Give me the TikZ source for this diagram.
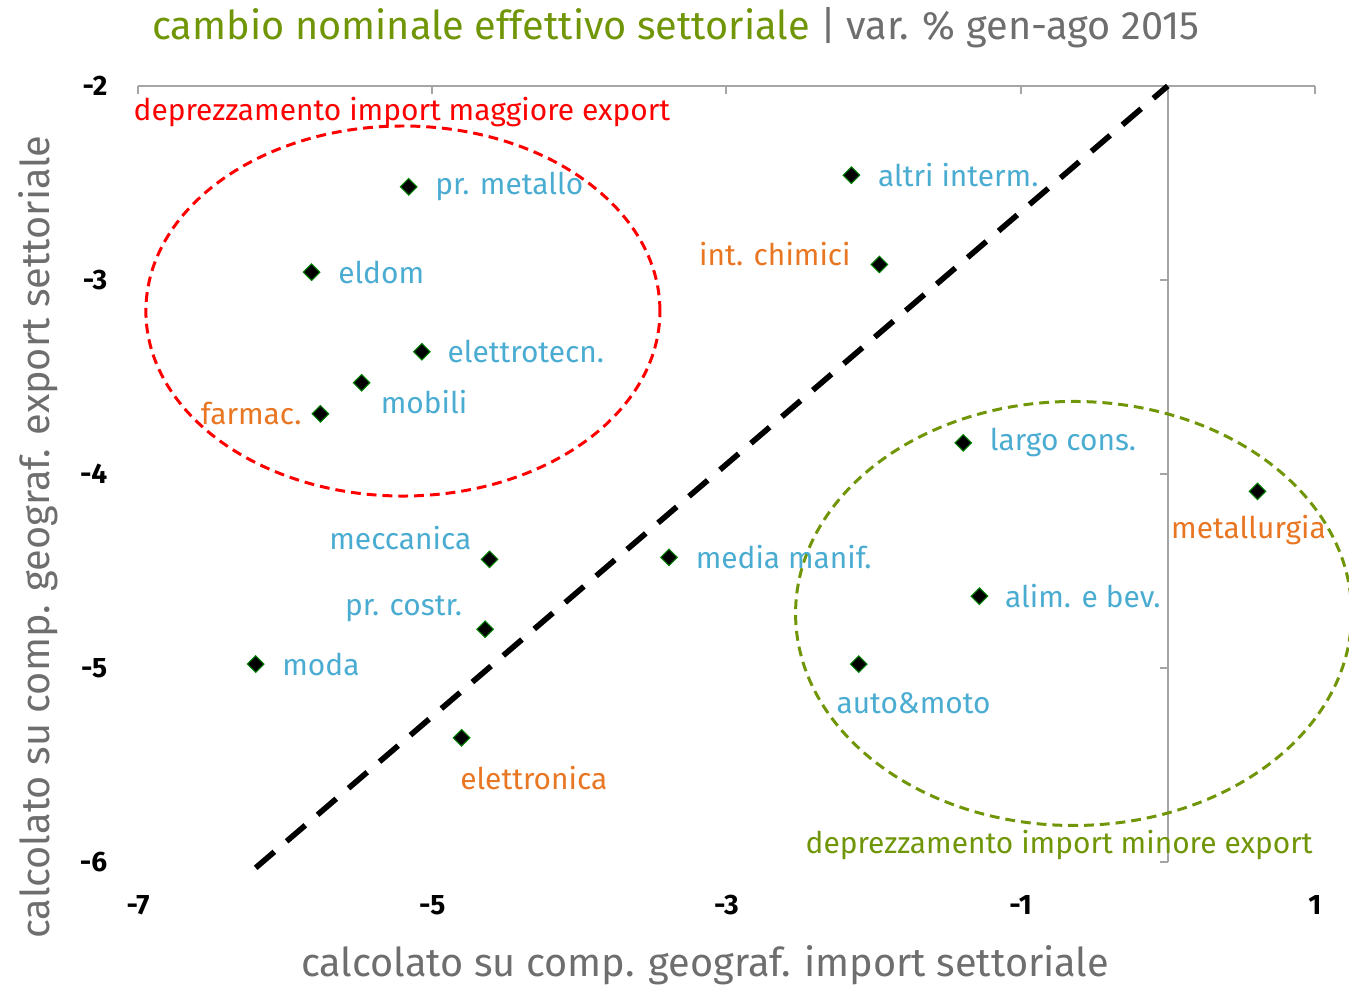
\documentclass[tikz,border=0pt]{standalone}
\usepackage{fontspec}
\setmainfont{Fira Sans}
\usepackage{xcolor}
\usetikzlibrary{positioning,shapes.geometric}

\definecolor{lblue}{RGB}{75,172,210}
\definecolor{lorange}{RGB}{232,118,34}
\definecolor{lgreen}{RGB}{112,150,8}
\definecolor{lgray}{RGB}{110,110,110}
\definecolor{agray}{RGB}{165,165,165}

\begin{document}
\begin{tikzpicture}[x=1.471cm,y=1.94cm,
    pt/.style={diamond,fill=black,draw=black!50!green,line width=0.3pt,inner sep=0pt,minimum size=0.17cm},
    blab/.style={text=lblue,font=\fontsize{8.5}{10}\selectfont,inner sep=0pt},
    olab/.style={text=lorange,font=\fontsize{8.5}{10}\selectfont,inner sep=0pt},
    tick/.style={font=\fontsize{8}{9}\selectfont\bfseries,inner sep=0pt},
    axis/.style={draw=agray,line width=0.6pt},
    ring/.style={dash pattern=on 2.8pt off 1.7pt,line width=0.85pt},
    big/.style={font=\fontsize{11.3}{13}\selectfont,inner sep=0pt}]
  \useasboundingbox (-7.938,-6.655) rectangle (1.232,-1.557);

  % axes
  \coordinate (o) at (0,-2);
  \coordinate (xl) at (-7,-2);
  \coordinate (xr) at (1,-2);
  \coordinate (yb) at (0,-6);
  \draw[axis] (xl) -- (xr);
  \draw[axis] (o) -- (yb);
  \foreach \x in {-7,-5,-3,-1,1} {
    \draw[axis] (\x,-2) -- ++(0,-0.08cm);
    \node[tick] (tx\x) at (\x,-6.222) {\x};
  }
  \foreach \y in {-3,-4,-5,-6}
    \draw[axis] (0,\y) -- ++(-0.08cm,0);
  \foreach \y in {-2,-3,-4,-5,-6}
    \node[tick,anchor=east] (ty\y) at (-7.204,\y) {\y};

  % diagonal
  \coordinate (d0) at (-6.2,-6.03);
  \coordinate (d1) at (0,-2);
  \draw[line width=1.6pt,dash pattern=on 7pt off 4.6pt] (d0) -- (d1);

  % areas
  \draw[red,ring] (-5.199,-3.160) ellipse [x radius=2.57cm,y radius=1.85cm];
  \draw[lgreen,ring] (-0.640,-4.719) ellipse [x radius=2.78cm,y radius=2.12cm];
  \node[text=red,font=\fontsize{8.5}{10}\selectfont,anchor=west,inner sep=0pt] (rl) at (-7.034,-2.134) {deprezzamento import maggiore export};
  \node[text=lgreen,font=\fontsize{8.5}{10}\selectfont,anchor=west,inner sep=0pt] (gl) at (-2.466,-5.912) {deprezzamento import minore export};

  % sectors
  \node[pt] (pm) at (-5.16,-2.52) {};
  \node[pt] (ed) at (-5.82,-2.96) {};
  \node[pt] (et) at (-5.07,-3.37) {};
  \node[pt] (mo) at (-5.48,-3.53) {};
  \node[pt] (fa) at (-5.76,-3.69) {};
  \node[pt] (ai) at (-2.15,-2.46) {};
  \node[pt] (ic) at (-1.96,-2.92) {};
  \node[pt] (lc) at (-1.39,-3.84) {};
  \node[pt] (mt) at (0.61,-4.09) {};
  \node[pt] (me) at (-4.61,-4.44) {};
  \node[pt] (mm) at (-3.39,-4.43) {};
  \node[pt] (ab) at (-1.28,-4.63) {};
  \node[pt] (pc) at (-4.64,-4.80) {};
  \node[pt] (md) at (-6.20,-4.98) {};
  \node[pt] (am) at (-2.10,-4.98) {};
  \node[pt] (el) at (-4.80,-5.36) {};

  \node[blab,right=0.17cm of pm] (pml) {pr. metallo};
  \node[blab,right=0.17cm of ed] (edl) {eldom};
  \node[blab,right=0.16cm of et] (etl) {elettrotecn.};
  \node[blab,below right=0.02cm and 0.14cm of mo] (mol) {mobili};
  \node[olab,left=0.09cm of fa] (fal) {farmac.};
  \node[blab,right=0.17cm of ai] (ail) {altri interm.};
  \node[olab,left=0.19cm of ic,yshift=0.1cm] (icl) {int. chimici};
  \node[blab,right=0.17cm of lc] (lcl) {largo cons.};
  \node[olab,below=0.14cm of mt,xshift=-0.09cm] (mtl) {metallurgia};
  \node[blab,above left=0.04cm and 0.13cm of me] (mel) {meccanica};
  \node[blab,right=0.17cm of mm] (mml) {media manif.};
  \node[blab,right=0.16cm of ab] (abl) {alim. e bev.};
  \node[blab,above left=0.02cm and 0.18cm of pc] (pcl) {pr. costr.};
  \node[blab,right=0.17cm of md] (mdl) {moda};
  \node[blab,below=0.19cm of am,anchor=north west,xshift=-0.23cm] (aml) {auto\&moto};
  \node[olab,below=0.19cm of el,anchor=north west,xshift=-0.02cm] (ell) {elettronica};

  % titles
  \node[big] (title) at (-3.343,-1.701)
    {\textcolor{lgreen}{cambio nominale effettivo settoriale} \textcolor{lgray}{| var. \% gen-ago 2015}};
  \node[big,text=lgray] (xt) at (-3.145,-6.531) {calcolato su comp. geograf. import settoriale};
  \node[big,text=lgray,rotate=90] (yt) at (-7.680,-4.325) {calcolato su comp. geograf. export settoriale};
\end{tikzpicture}
\end{document}
